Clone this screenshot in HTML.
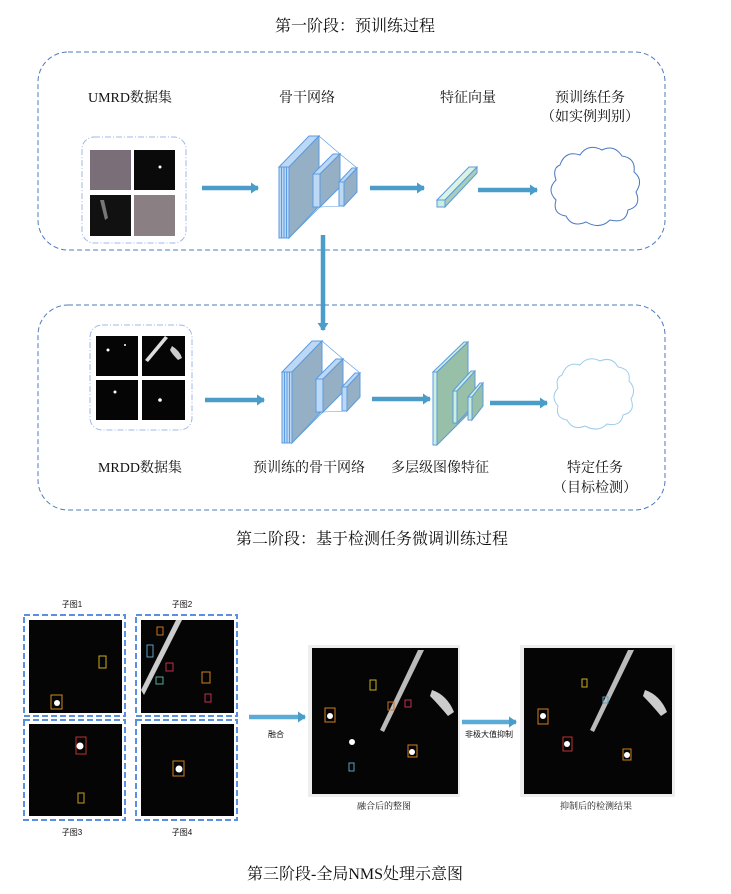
<!DOCTYPE html>
<html><head><meta charset="utf-8"><style>
body{margin:0;background:#fff;width:731px;height:894px;overflow:hidden;font-family:"Liberation Serif","Noto Serif CJK SC",serif;}
svg{position:absolute;left:0;top:0}
text{font-family:"Liberation Serif","Noto Serif CJK SC",serif;fill:#111}
.s{font-family:"Liberation Sans","Noto Sans CJK SC",sans-serif;font-size:8px}
</style></head><body>
<svg width="731" height="894" viewBox="0 0 731 894">
<defs>
<marker id="ah" markerWidth="8" markerHeight="11" refX="7" refY="5.5" orient="auto" markerUnits="userSpaceOnUse"><path d="M0,0 L8,5.5 L0,11 Z" fill="#4a9cc9"/></marker>
<g id="bb" stroke="#5b9be0" stroke-width="1">
<polygon points="0,31 30,0 40,0 10,31" fill="#bcd8f5"/>
<rect x="0" y="31" width="10" height="71" fill="#bcd8f5"/>
<line x1="2.5" y1="31" x2="2.5" y2="102"/><line x1="5" y1="31" x2="5" y2="102"/><line x1="7.5" y1="31" x2="7.5" y2="102"/>
<polygon points="10,31 40,0 40,70 10,102" fill="#95b0c4"/>
<line x1="40" y1="0" x2="61" y2="18" stroke-width="0.6"/><line x1="10" y1="102" x2="41" y2="71" stroke-width="0.6"/>
<polygon points="34,38 54,18 61,18 41,38" fill="#bcd8f5"/>
<rect x="34" y="38" width="7" height="33" fill="#bcd8f5"/>
<polygon points="41,38 61,18 61,51 41,71" fill="#95b0c4"/>
<line x1="61" y1="18" x2="78" y2="32" stroke-width="0.6"/><line x1="41" y1="71" x2="65" y2="70" stroke-width="0.6"/>
<polygon points="60,46 73,32 78,32 65,46" fill="#bcd8f5"/>
<rect x="60" y="46" width="5" height="24" fill="#bcd8f5"/>
<polygon points="65,46 78,32 78,56 65,70" fill="#95b0c4"/>
</g>
</defs>

<text x="355" y="31" font-size="16" text-anchor="middle">第一阶段：预训练过程</text>
<rect x="38" y="52" width="627" height="198" rx="30" fill="none" stroke="#4d7cb8" stroke-width="1" stroke-dasharray="5,3"/>
<text x="130" y="102" font-size="14" text-anchor="middle">UMRD数据集</text>
<text x="307" y="102" font-size="14" text-anchor="middle">骨干网络</text>
<text x="468" y="102" font-size="14" text-anchor="middle">特征向量</text>
<text x="590" y="102" font-size="14" text-anchor="middle">预训练任务</text>
<text x="590" y="121" font-size="14" text-anchor="middle">（如实例判别）</text>
<rect x="82" y="137" width="104" height="106" rx="12" fill="none" stroke="#9cb8e8" stroke-width="1" stroke-dasharray="6,2,1,2"/>
<rect x="90" y="150" width="41" height="40" fill="#7a6f78"/>
<rect x="134" y="150" width="41" height="40" fill="#0a0a0a"/><circle cx="160" cy="167" r="1.5" fill="#ffe"/>
<rect x="90" y="195" width="41" height="41" fill="#111"/><path d="M100,200 l5,20 l3,-2 l-4,-18Z" fill="#777"/>
<rect x="134" y="195" width="41" height="41" fill="#8a7f82"/>
<line x1="202" y1="188" x2="258" y2="188" stroke="#4a9cc9" stroke-width="4.5" marker-end="url(#ah)"/>
<use href="#bb" x="279" y="136"/>
<line x1="370" y1="188" x2="424" y2="188" stroke="#4a9cc9" stroke-width="4.5" marker-end="url(#ah)"/>
<g stroke="#5b9be0" stroke-width="1"><polygon points="437,200 469,167 477,167 445,200" fill="#d9f3e4"/><polygon points="445,200 477,167 477,173 445,207" fill="#a8cdb8"/><rect x="437" y="200" width="8" height="7" fill="#cdeedc"/></g>
<line x1="478" y1="190" x2="537" y2="190" stroke="#4a9cc9" stroke-width="4.5" marker-end="url(#ah)"/>
<path d="M560,165 q5,-15 20,-10 q8,-12 22,-5 q12,-6 20,6 q14,2 12,16 q10,8 2,20 q6,14 -8,18 q-2,14 -18,10 q-10,10 -24,2 q-14,6 -20,-6 q-14,-2 -10,-16 q-10,-10 0,-20 q-4,-12 4,-15Z" fill="none" stroke="#4a79c2" stroke-width="1"/>
<line x1="323" y1="235" x2="323" y2="330" stroke="#4a9cc9" stroke-width="4.5" marker-end="url(#ah)"/>

<rect x="38" y="305" width="627" height="205" rx="30" fill="none" stroke="#4d7cb8" stroke-width="1" stroke-dasharray="5,3"/>
<rect x="90" y="325" width="102" height="105" rx="12" fill="none" stroke="#9cb8e8" stroke-width="1" stroke-dasharray="6,2,1,2"/>
<rect x="96" y="336" width="42" height="40" fill="#050505"/><circle cx="108" cy="350" r="1.5" fill="#fff"/><circle cx="125" cy="345" r="1" fill="#fff"/>
<rect x="142" y="336" width="43" height="40" fill="#050505"/><path d="M145,360 l20,-24 l3,2 l-20,24Z" fill="#ddd"/><path d="M172,346 q8,5 10,12 l-4,2 q-6,-6 -8,-10Z" fill="#ccc"/>
<rect x="96" y="380" width="42" height="40" fill="#050505"/><circle cx="115" cy="392" r="1.5" fill="#fff"/>
<rect x="142" y="380" width="43" height="40" fill="#050505"/><circle cx="160" cy="400" r="1.8" fill="#fff"/>
<line x1="205" y1="400" x2="264" y2="400" stroke="#4a9cc9" stroke-width="4.5" marker-end="url(#ah)"/>
<use href="#bb" x="282" y="341"/>
<line x1="372" y1="399" x2="430" y2="399" stroke="#4a9cc9" stroke-width="4.5" marker-end="url(#ah)"/>
<g stroke="#5b9be0" stroke-width="1">
<polygon points="433,372 464,342 468,342 437,372" fill="#cdeedc"/><rect x="433" y="372" width="4" height="73" fill="#cdeedc"/><polygon points="437,372 468,342 468,414 437,445" fill="#98bfa8"/>
<polygon points="453,391 471,371 475,371 457,391" fill="#cdeedc"/><rect x="453" y="391" width="4" height="32" fill="#cdeedc"/><polygon points="457,391 475,371 475,404 457,423" fill="#98bfa8"/>
<polygon points="468,397 480,383 483,383 472,397" fill="#cdeedc"/><rect x="468" y="397" width="4" height="23" fill="#cdeedc"/><polygon points="472,397 483,383 483,406 472,420" fill="#98bfa8"/>
</g>
<line x1="490" y1="403" x2="547" y2="403" stroke="#4a9cc9" stroke-width="4.5" marker-end="url(#ah)"/>
<path d="M562,375 q5,-14 18,-10 q8,-10 20,-4 q12,-5 18,6 q13,2 11,14 q8,8 2,18 q5,13 -8,16 q-2,12 -16,9 q-9,9 -22,2 q-12,5 -18,-6 q-12,-2 -9,-14 q-8,-9 0,-18 q-3,-10 4,-13Z" fill="none" stroke="#9ecdea" stroke-width="1"/>
<text x="140" y="472" font-size="14" text-anchor="middle">MRDD数据集</text>
<text x="309" y="472" font-size="14" text-anchor="middle">预训练的骨干网络</text>
<text x="440" y="472" font-size="14" text-anchor="middle">多层级图像特征</text>
<text x="595" y="472" font-size="14" text-anchor="middle">特定任务</text>
<text x="595" y="492" font-size="14" text-anchor="middle">（目标检测）</text>
<text x="372" y="544" font-size="16" text-anchor="middle">第二阶段：基于检测任务微调训练过程</text>

<text class="s" x="72" y="607" text-anchor="middle">子图1</text>
<text class="s" x="182" y="607" text-anchor="middle">子图2</text>
<g fill="none" stroke="#5b8fe0" stroke-width="2" stroke-dasharray="6,3">
<rect x="24" y="615" width="101" height="101"/><rect x="136" y="615" width="101" height="101"/>
<rect x="24" y="720" width="101" height="100"/><rect x="136" y="720" width="101" height="100"/>
</g>
<rect x="29" y="620" width="93" height="93" fill="#050505"/>
<rect x="141" y="620" width="93" height="93" fill="#050505"/><path d="M141,690 l35,-70 l6,0 l-38,75Z" fill="#ccc"/>
<rect x="29" y="724" width="93" height="92" fill="#050505"/>
<rect x="141" y="724" width="93" height="92" fill="#050505"/>
<g fill="none" stroke-width="1">
<rect x="51" y="695" width="11" height="14" stroke="#d08a20"/><rect x="99" y="656" width="7" height="12" stroke="#c8b020"/>
<rect x="157" y="627" width="6" height="8" stroke="#d07020"/><rect x="147" y="645" width="6" height="12" stroke="#5aa0c0"/><rect x="166" y="663" width="7" height="8" stroke="#c03050"/><rect x="156" y="677" width="7" height="7" stroke="#50b0a0"/><rect x="202" y="672" width="8" height="11" stroke="#d08020"/><rect x="205" y="694" width="6" height="8" stroke="#c03050"/>
<rect x="76" y="737" width="10" height="17" stroke="#c03030"/><rect x="78" y="793" width="6" height="10" stroke="#c8a020"/>
<rect x="173" y="761" width="11" height="15" stroke="#d08020"/>
</g>
<circle cx="57" cy="703" r="3" fill="#fff"/><circle cx="80" cy="746" r="3.5" fill="#fff"/><circle cx="179" cy="769" r="3.5" fill="#fff"/>
<text class="s" x="72" y="835" text-anchor="middle">子图3</text>
<text class="s" x="182" y="835" text-anchor="middle">子图4</text>
<line x1="249" y1="717" x2="305" y2="717" stroke="#5aabd6" stroke-width="4.5" marker-end="url(#ah)"/>
<text class="s" x="276" y="737" text-anchor="middle">融合</text>
<rect x="308" y="645" width="152" height="152" fill="#eee"/>
<rect x="312" y="648" width="146" height="146" fill="#050505"/><path d="M380,730 l38,-80 l6,0 l-40,82Z" fill="#bbb"/><path d="M432,690 q15,5 22,22 l-6,4 q-10,-12 -18,-20Z" fill="#ccc"/>
<g fill="none" stroke-width="1"><rect x="325" y="708" width="10" height="14" stroke="#d08020"/><rect x="408" y="745" width="9" height="12" stroke="#d08020"/><rect x="349" y="763" width="5" height="8" stroke="#5aa0c0"/><rect x="370" y="680" width="6" height="10" stroke="#c8b020"/><rect x="388" y="702" width="6" height="8" stroke="#d07020"/><rect x="405" y="700" width="6" height="7" stroke="#c03050"/></g>
<circle cx="330" cy="716" r="3" fill="#fff"/><circle cx="352" cy="742" r="3" fill="#fff"/><circle cx="412" cy="752" r="3" fill="#fff"/>
<text x="384" y="809" font-size="9" text-anchor="middle">融合后的整图</text>
<line x1="462" y1="722" x2="516" y2="722" stroke="#5aabd6" stroke-width="4.5" marker-end="url(#ah)"/>
<text class="s" x="489" y="737" text-anchor="middle">非极大值抑制</text>
<rect x="520" y="645" width="155" height="152" fill="#eee"/>
<rect x="524" y="648" width="148" height="146" fill="#050505"/><path d="M590,730 l38,-80 l6,0 l-40,82Z" fill="#bbb"/><path d="M645,690 q15,5 22,22 l-6,4 q-10,-12 -18,-20Z" fill="#ccc"/>
<g fill="none" stroke-width="1"><rect x="538" y="709" width="10" height="15" stroke="#d08020"/><rect x="623" y="749" width="8" height="11" stroke="#d08020"/><rect x="563" y="737" width="9" height="14" stroke="#c03030"/><rect x="582" y="679" width="5" height="8" stroke="#c8b020"/><rect x="603" y="697" width="5" height="6" stroke="#5aa0c0"/></g>
<circle cx="543" cy="716" r="3" fill="#fff"/><circle cx="567" cy="744" r="3" fill="#fff"/><circle cx="627" cy="755" r="3" fill="#fff"/>
<text x="596" y="809" font-size="9" text-anchor="middle">抑制后的检测结果</text>
<text x="355" y="879" font-size="16" text-anchor="middle">第三阶段-全局NMS处理示意图</text>
</svg>
</body></html>
